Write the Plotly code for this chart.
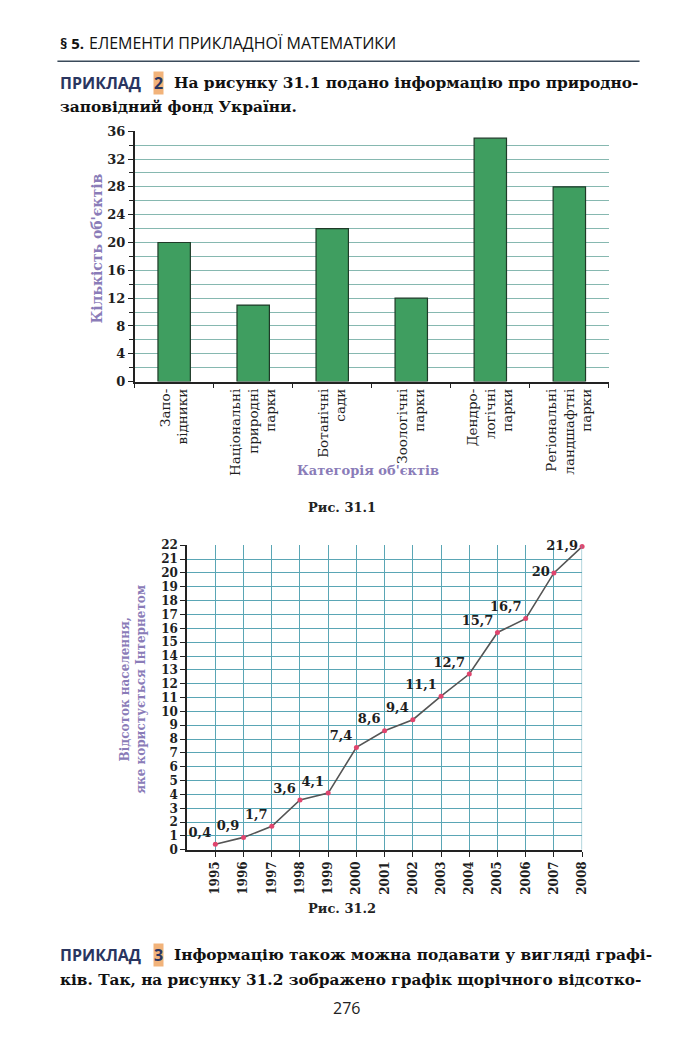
import plotly.graph_objects as go

W, H = 700, 1055
def px(x): return x / W
def py(y): return 1 - y / H

# ---- data ----
categories = ["Запо-<br>відники", "Національні<br>природні<br>парки", "Ботанічні<br>сади",
              "Зоологічні<br>парки", "Дендро-<br>логічні<br>парки", "Регіональні<br>ландшафтні<br>парки"]
counts = [20, 11, 22, 12, 35, 28]

years = list(range(1995, 2009))
percent = [0.4, 0.9, 1.7, 3.6, 4.1, 7.4, 8.6, 9.4, 11.1, 12.7, 15.7, 16.7, 20, 21.9]
percent_labels = ["0,4", "0,9", "1,7", "3,6", "4,1", "7,4", "8,6", "9,4", "11,1", "12,7",
                  "15,7", "16,7", "20", "21,9"]
label_pos = ["top left"] * 12 + ["middle left", "middle left"]

SERIF = "DejaVu Serif"
SANS = "Open Sans"
DARK = "#1e1e1e"
PURPLE = "#8a7cb8"
NAVY = "#2a3560"

fig = go.Figure()

fig.add_trace(go.Bar(
    x=categories, y=counts, xaxis="x", yaxis="y",
    width=0.41, marker=dict(color="#3f9e60", line=dict(color="#1f3a28", width=1.2)),
    showlegend=False, hoverinfo="skip"))

fig.add_trace(go.Scatter(
    x=years, y=percent, xaxis="x2", yaxis="y2",
    mode="lines+markers+text", text=percent_labels, textposition=label_pos,
    textfont=dict(family=SERIF, size=13, color=DARK, weight="bold"),
    line=dict(color="#555555", width=1.6),
    marker=dict(color="#e0456e", size=5),
    showlegend=False, cliponaxis=False, hoverinfo="skip"))

fig.update_layout(
    width=W, height=H, margin=dict(l=0, r=0, t=0, b=0),
    paper_bgcolor="white", plot_bgcolor="white",
    xaxis=dict(domain=[px(136), px(615)], anchor="y", type="category",
               range=[-0.5, 5.5], showgrid=False, showline=True, linecolor="#222", linewidth=1.5,
               ticks="outside", ticklen=5, tickcolor="#222", tickson="boundaries",
               tickangle=-90, tickfont=dict(family=SERIF, size=13.5, color=DARK)),
    yaxis=dict(domain=[py(380), py(126)], anchor="x", range=[0, 36], dtick=4,
               showgrid=True, gridcolor="#86b8b0", gridwidth=1,
               showline=True, linecolor="#222", linewidth=1.5,
               ticks="outside", ticklen=5, tickcolor="#222",
               tickfont=dict(family=SERIF, size=13, color=DARK, weight="bold"),
               minor=dict(dtick=2, showgrid=True, gridcolor="#86b8b0", ticks="outside",
                          ticklen=4, tickcolor="#222"),
               zeroline=False),
    xaxis2=dict(domain=[px(189), px(588)], anchor="y2", range=[1994, 2008],
                tickvals=years, ticktext=[str(y) for y in years],
                showgrid=True, gridcolor="#5aa6b5", gridwidth=1,
                showline=True, linecolor="#222", linewidth=1.5, zeroline=False,
                ticks="outside", ticklen=5, tickcolor="#222", tickangle=-90,
                tickfont=dict(family=SERIF, size=12, color=DARK, weight="bold")),
    yaxis2=dict(domain=[py(855), py(546)], anchor="x2", range=[0, 22], dtick=1,
                showgrid=True, gridcolor="#5aa6b5", gridwidth=1,
                showline=True, linecolor="#222", linewidth=1.5, zeroline=False,
                ticks="outside", ticklen=5, tickcolor="#222",
                tickfont=dict(family=SERIF, size=12, color=DARK, weight="bold")),
)

# right border of the line chart grid
fig.add_shape(type="line", xref="x2", yref="y2", x0=2008, x1=2008, y0=0, y1=22,
              line=dict(color="#5aa6b5", width=1))

ann = []
def text(x, y, s, size, color=DARK, family=SERIF, bold=True, xanchor="left", angle=0, bg=None):
    ann.append(dict(x=px(x), y=py(y), xref="paper", yref="paper", text=s, showarrow=False,
                    xanchor=xanchor, yanchor="middle", textangle=angle,
                    font=dict(family=family, size=size, color=color, weight="bold" if bold else "normal"),
                    bgcolor=bg, borderpad=0))

# header
text(60, 37, "§ 5.", 15, color="#111", family=SANS, bold=True)
text(89, 37, "ЕЛЕМЕНТИ ПРИКЛАДНОЇ МАТЕМАТИКИ", 16, color="#111", family=SANS, bold=False)
fig.add_shape(type="line", xref="paper", yref="paper", x0=px(58), x1=px(646), y0=py(55), y1=py(55),
              line=dict(color="#3a4a5a", width=1.5))

# example 2 paragraph
text(60, 77, "ПРИКЛАД", 16, color=NAVY, family=SANS)
text(155, 77, "2", 16, color=NAVY, family=SANS, bg="#f2b37a")
text(175, 77, "На рисунку 31.1 подано інформацію про природно-", 15.4, color="#111")
text(60, 101, "заповідний фонд України.", 15.4, color="#111")

# bar chart titles
text(97, 245, "Кількість об'єктів", 14, color=PURPLE, xanchor="center", angle=-90)
text(372, 470, "Категорія об'єктів", 13, color=PURPLE, xanchor="center")
text(345, 508, "Рис. 31.1", 13, color="#222", xanchor="center")

# line chart titles
text(135, 692, "Відсоток населення,<br>яке користується Інтернетом", 12, color=PURPLE,
     xanchor="center", angle=-90)
text(345, 915, "Рис. 31.2", 13, color="#222", xanchor="center")

# example 3 paragraph
text(60, 962, "ПРИКЛАД", 16, color=NAVY, family=SANS)
text(155, 962, "3", 16, color=NAVY, family=SANS, bg="#f2b37a")
text(175, 962, "Інформацію також можна подавати у вигляді графі-", 15.4, color="#111")
text(60, 987, "ків. Так, на рисунку 31.2 зображено графік щорічного відсотко-", 15.3, color="#111")
text(350, 1015, "276", 16, color="#222", family=SANS, bold=False, xanchor="center")

fig.update_layout(annotations=ann)
fig.write_html("out.html")
